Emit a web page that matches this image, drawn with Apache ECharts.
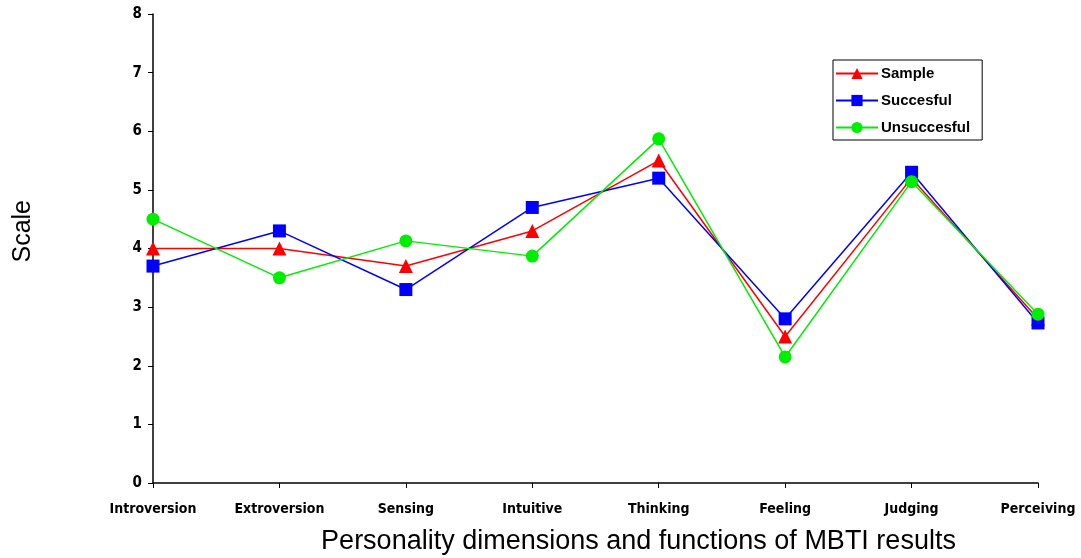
<html>
<head>
<meta charset="UTF-8">
<script src="https://cdn.jsdelivr.net/npm/echarts@6/dist/echarts.min.js"></script>
<style>
html,body{margin:0;padding:0;background:#fff;}
#chart{width:1081px;height:558px;}
</style>
</head>
<body>
<div id="chart"></div>
<script>
var categories = ['Introversion', 'Extroversion', 'Sensing', 'Intuitive', 'Thinking', 'Feeling', 'Judging', 'Perceiving'];
var sample = [4.0, 4.0, 3.7, 4.3, 5.5, 2.5, 5.2, 2.8];
var succesful = [3.7, 4.3, 3.3, 4.7, 5.2, 2.8, 5.3, 2.73];
var unsuccesful = [4.5, 3.5, 4.13, 3.87, 5.87, 2.15, 5.14, 2.88];

var narrow = "'DejaVu Sans Condensed', 'Liberation Sans Narrow', Arial, sans-serif";
var plain = "'Liberation Sans', Arial, sans-serif";

var myChart = echarts.init(document.getElementById('chart'));

var option = {
    animation: false,
    backgroundColor: '#fff',
    grid: {left: 153, right: 43, top: 14, bottom: 75, outerBoundsMode: 'none', containLabel: false},
    graphic: [{
        type: 'text',
        left: 11,
        top: 200,
        rotation: Math.PI / 2,
        style: {text: 'Scale', font: '25px ' + plain, fill: '#000'}
    }],
    legend: {
        orient: 'vertical',
        left: 833,
        top: 60,
        padding: [6, 12, 5, 2],
        itemGap: 12,
        itemWidth: 42,
        itemHeight: 14,
        borderColor: '#000',
        borderWidth: 1,
        textStyle: {fontFamily: plain, fontWeight: 'bold', fontSize: 15, color: '#000', padding: [0, 0, 0, -2]},
        data: ['Sample', 'Succesful', 'Unsuccesful']
    },
    xAxis: {
        type: 'category',
        data: categories,
        boundaryGap: false,
        name: 'Personality dimensions and functions of MBTI results',
        nameLocation: 'middle',
        nameGap: 45,
        nameTextStyle: {fontFamily: plain, fontSize: 27, color: '#000', padding: [0, 0, 0, 86]},
        axisLine: {lineStyle: {color: '#000', width: 1.5}},
        axisTick: {alignWithLabel: true, length: 5, lineStyle: {color: '#000'}},
        axisLabel: {fontFamily: narrow, fontWeight: 'bold', fontSize: 14, color: '#000', margin: 19, interval: 0},
        splitLine: {show: false}
    },
    yAxis: {
        type: 'value',
        min: 0,
        max: 8,
        interval: 1,
        axisLine: {show: true, lineStyle: {color: '#000', width: 1.5}},
        axisTick: {show: true, length: 5, lineStyle: {color: '#000'}},
        axisLabel: {fontFamily: narrow, fontWeight: 'bold', fontSize: 15, color: '#000', margin: 11},
        splitLine: {show: false}
    },
    series: [
        {
            name: 'Sample',
            type: 'line',
            data: sample,
            symbol: 'triangle',
            symbolSize: 14,
            color: '#ff0000',
            lineStyle: {width: 1.5, color: '#ff0000'},
            itemStyle: {color: '#ff0000'}
        },
        {
            name: 'Succesful',
            type: 'line',
            data: succesful,
            symbol: 'rect',
            symbolSize: 13,
            color: '#0000ff',
            lineStyle: {width: 1.5, color: '#0000ff'},
            itemStyle: {color: '#0000ff'}
        },
        {
            name: 'Unsuccesful',
            type: 'line',
            data: unsuccesful,
            symbol: 'circle',
            symbolSize: 13,
            color: '#00ee00',
            lineStyle: {width: 1.5, color: '#00ee00'},
            itemStyle: {color: '#00ee00'}
        }
    ]
};

myChart.setOption(option);
</script>
</body>
</html>
